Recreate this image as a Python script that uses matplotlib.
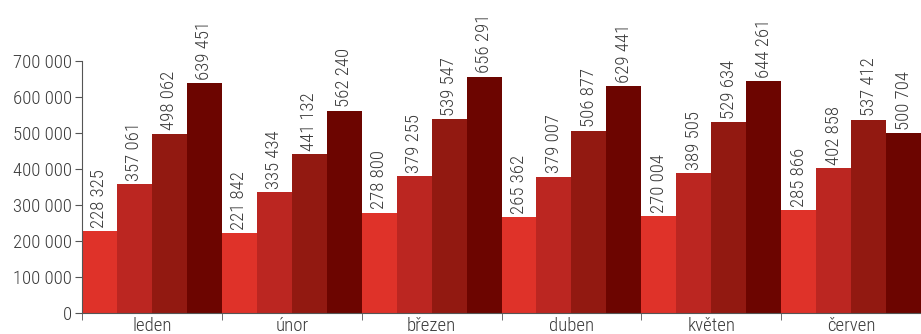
import numpy as np
import matplotlib.pyplot as plt

months = ['leden', 'únor', 'březen', 'duben', 'květen', 'červen']
series_a = [228325, 221842, 278800, 265362, 270004, 285866]
series_b = [357061, 335434, 379255, 379007, 389505, 402858]
series_c = [498062, 441132, 539547, 506877, 529634, 537412]
series_d = [639451, 562240, 656291, 629441, 644261, 500704]
yticks = [0, 100000, 200000, 300000, 400000, 500000, 600000, 700000]

colors = ['#df3229', '#bb2621', '#921911', '#6c0500']
text_color = '#3a3a3a'

plt.rcParams['font.family'] = ['Roboto Condensed', 'DejaVu Sans']
plt.rcParams['font.weight'] = 'light'

def fmt(v):
    return f'{v:,}'.replace(',', ' ')

fig = plt.figure(figsize=(9.21, 3.34), dpi=100)
ax = fig.add_axes([82 / 921, 21 / 334, 1 - 82 / 921, (313 - 61) / 334])

x = np.arange(len(months))
w = 0.25
for i, vals in enumerate([series_a, series_b, series_c, series_d]):
    pos = x + (i - 1.5) * w
    ax.bar(pos, vals, width=w, color=colors[i], linewidth=0)
    for p, v in zip(pos, vals):
        ax.text(p, v + 9000, fmt(v), rotation=90, ha='center', va='bottom',
                fontsize=13.5, color=text_color, clip_on=False)

ax.set_xlim(-0.5, len(months) - 0.5)
ax.set_ylim(0, 700000)
ax.set_yticks(yticks)
ax.set_yticklabels([fmt(t) for t in yticks])
ax.set_xticks(x)
ax.set_xticklabels(months)
ax.set_xticks(np.arange(len(months) + 1) - 0.5, minor=True)
ax.tick_params(axis='x', which='major', length=0, pad=3, labelsize=13.5, labelcolor=text_color)
ax.tick_params(axis='x', which='minor', length=5, color='#555555')
ax.tick_params(axis='y', length=5, pad=2, labelsize=13.5, labelcolor=text_color, color='#555555')
for s in ['top', 'right']:
    ax.spines[s].set_visible(False)
for s in ['left', 'bottom']:
    ax.spines[s].set_color('#555555')

fig.savefig('out.png', dpi=100)
